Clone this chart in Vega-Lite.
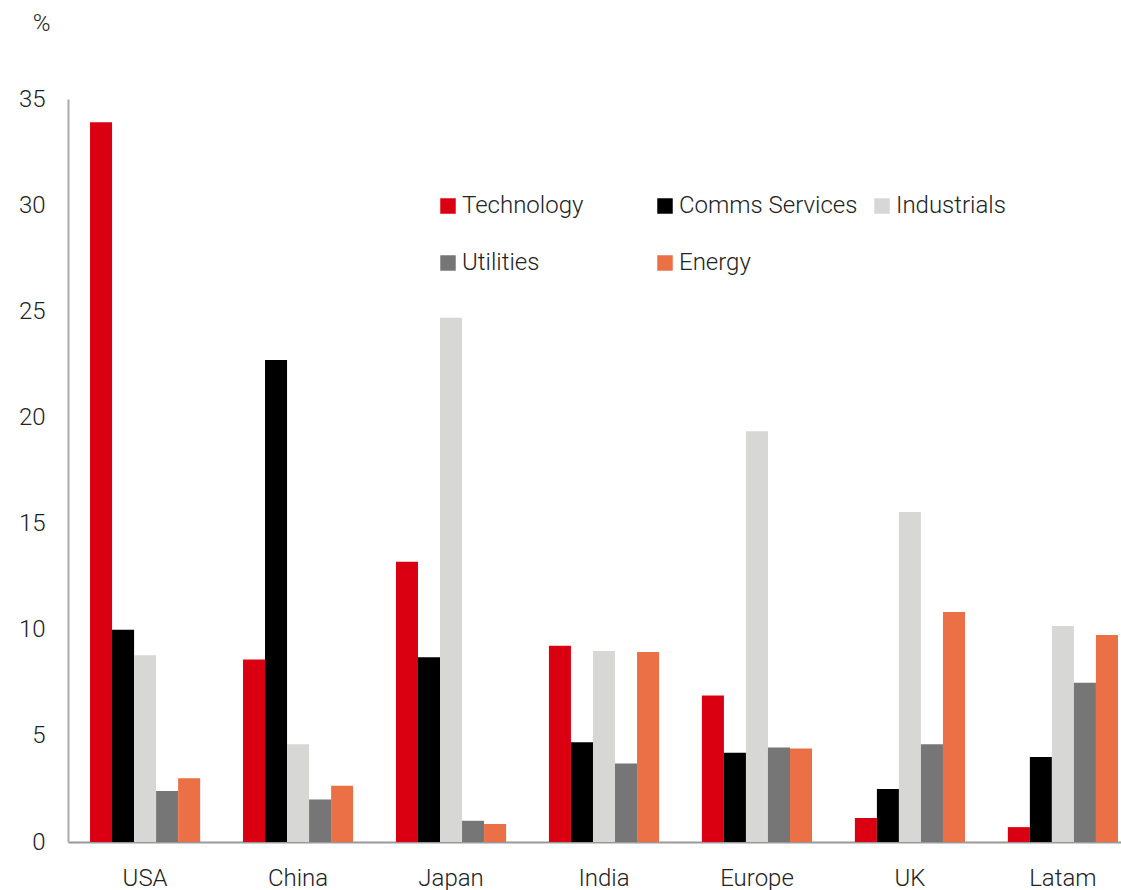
{
  "$schema": "https://vega.github.io/schema/vega-lite/v6.json",
  "autosize": {"type": "none"},
  "padding": {"left": 68, "top": 99, "right": 0, "bottom": 48},
  "width": 1072,
  "height": 743,
  "background": "white",
  "config": {
    "view": {"stroke": null},
    "font": "Roboto",
    "axis": {"labelFont": "Roboto", "labelFontWeight": 300, "labelColor": "#222", "labelFontSize": 24}
  },
  "data": {
    "values": [
      {"region": "USA", "sector": "Technology", "value": 33.9},
      {"region": "USA", "sector": "Comms Services", "value": 10.0},
      {"region": "USA", "sector": "Industrials", "value": 8.8},
      {"region": "USA", "sector": "Utilities", "value": 2.4},
      {"region": "USA", "sector": "Energy", "value": 3.0},
      {"region": "China", "sector": "Technology", "value": 8.6},
      {"region": "China", "sector": "Comms Services", "value": 22.7},
      {"region": "China", "sector": "Industrials", "value": 4.6},
      {"region": "China", "sector": "Utilities", "value": 2.0},
      {"region": "China", "sector": "Energy", "value": 2.65},
      {"region": "Japan", "sector": "Technology", "value": 13.2},
      {"region": "Japan", "sector": "Comms Services", "value": 8.7},
      {"region": "Japan", "sector": "Industrials", "value": 24.7},
      {"region": "Japan", "sector": "Utilities", "value": 1.0},
      {"region": "Japan", "sector": "Energy", "value": 0.85},
      {"region": "India", "sector": "Technology", "value": 9.25},
      {"region": "India", "sector": "Comms Services", "value": 4.7},
      {"region": "India", "sector": "Industrials", "value": 9.0},
      {"region": "India", "sector": "Utilities", "value": 3.7},
      {"region": "India", "sector": "Energy", "value": 8.95},
      {"region": "Europe", "sector": "Technology", "value": 6.9},
      {"region": "Europe", "sector": "Comms Services", "value": 4.2},
      {"region": "Europe", "sector": "Industrials", "value": 19.35},
      {"region": "Europe", "sector": "Utilities", "value": 4.45},
      {"region": "Europe", "sector": "Energy", "value": 4.4},
      {"region": "UK", "sector": "Technology", "value": 1.13},
      {"region": "UK", "sector": "Comms Services", "value": 2.5},
      {"region": "UK", "sector": "Industrials", "value": 15.55},
      {"region": "UK", "sector": "Utilities", "value": 4.6},
      {"region": "UK", "sector": "Energy", "value": 10.83},
      {"region": "Latam", "sector": "Technology", "value": 0.7},
      {"region": "Latam", "sector": "Comms Services", "value": 4.0},
      {"region": "Latam", "sector": "Industrials", "value": 10.17},
      {"region": "Latam", "sector": "Utilities", "value": 7.5},
      {"region": "Latam", "sector": "Energy", "value": 9.75}
    ]
  },
  "mark": {"type": "bar"},
  "encoding": {
    "x": {
      "field": "region",
      "type": "nominal",
      "sort": ["USA", "China", "Japan", "India", "Europe", "UK", "Latam"],
      "scale": {"paddingInner": 0.28, "paddingOuter": 0.144},
      "axis": {"title": null, "labelAngle": 0, "ticks": false, "domainColor": "#999", "domainWidth": 2, "labelPadding": 24}
    },
    "xOffset": {
      "field": "sector",
      "sort": ["Technology", "Comms Services", "Industrials", "Utilities", "Energy"],
      "scale": {"paddingInner": 0, "paddingOuter": 0}
    },
    "y": {
      "field": "value",
      "type": "quantitative",
      "scale": {"domain": [0, 35], "nice": false},
      "axis": {
        "values": [0, 5, 10, 15, 20, 25, 30, 35],
        "grid": false,
        "ticks": false,
        "domainColor": "#aaa",
        "domainWidth": 2,
        "labelPadding": 23,
        "title": "%",
        "titleAngle": 0,
        "titleFont": "Roboto",
        "titleFontWeight": 300,
        "titleFontSize": 24,
        "titleColor": "#222",
        "titleAlign": "center",
        "titleBaseline": "middle",
        "titleX": -27,
        "titleY": -76
      }
    },
    "color": {
      "field": "sector",
      "type": "nominal",
      "sort": ["Technology", "Comms Services", "Industrials", "Utilities", "Energy"],
      "scale": {
        "domain": ["Technology", "Comms Services", "Industrials", "Utilities", "Energy"],
        "range": ["#DB0011", "#000000", "#D7D8D6", "#767676", "#EC7046"]
      },
      "legend": {
        "title": null,
        "orient": "none",
        "legendX": 368,
        "legendY": 95,
        "direction": "horizontal",
        "columns": 3,
        "gridAlign": "all",
        "columnPadding": 12,
        "rowPadding": 33,
        "symbolType": "square",
        "symbolSize": 240,
        "symbolStrokeWidth": 0,
        "symbolOpacity": 1,
        "labelFont": "Roboto",
        "labelFontWeight": 300,
        "labelFontSize": 24,
        "labelColor": "#222",
        "labelOffset": 2,
        "labelLimit": 400
      }
    }
  }
}
